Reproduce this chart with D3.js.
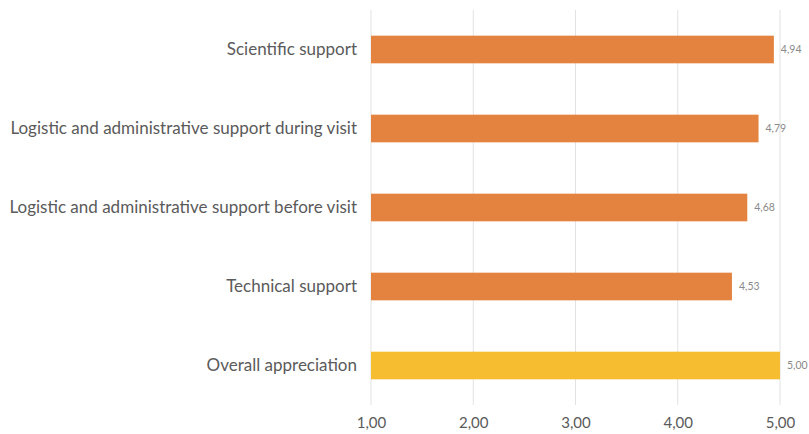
<!DOCTYPE html>
<html>
<head>
<meta charset="utf-8">
<script src="https://cdn.jsdelivr.net/npm/d3@7"></script>
<style>
  body { margin: 0; background: #fff; }
  .cat { font-family: Lato, sans-serif; font-size: 17px; fill: #5a5a5a; }
  .val { font-family: Lato, sans-serif; font-size: 10.5px; fill: #8a8a8a; }
  .tick text { font-family: Lato, sans-serif; font-size: 15px; fill: #5a5a5a; }
</style>
</head>
<body>
<div id="chart"></div>
<script>
var categories = ["Scientific support", "Logistic and administrative support during visit",
    "Logistic and administrative support before visit", "Technical support", "Overall appreciation"];
var scores = [4.94, 4.79, 4.68, 4.53, 5.00];
var barColors = ["#e3833f", "#e3833f", "#e3833f", "#e3833f", "#f7bd30"];
var tickValues = [1, 2, 3, 4, 5];

var svgWidth = 809;
var svgHeight = 434;

var svg = d3.select("#chart")
    .append("svg")
    .attr("width", svgWidth)
    .attr("height", svgHeight);

var x = d3.scaleLinear()
    .domain([1, 5])
    .range([371, 780]);

var y = d3.scaleBand()
    .domain(categories)
    .range([10, 405])
    .paddingInner(0.65)
    .paddingOuter(0.325);

var commaFmt = d => d3.format(".2f")(d).replace(".", ",");

// gridlines
svg.append("g")
    .selectAll("line")
    .data(tickValues)
    .enter()
    .append("line")
        .attr("x1", d => x(d))
        .attr("x2", d => x(d))
        .attr("y1", 10)
        .attr("y2", 405)
        .attr("stroke", "#e2e2e2")
        .attr("stroke-width", 1);

// bottom axis, only the labels
var bottomAxis = d3.axisBottom(x)
    .tickValues(tickValues)
    .tickSize(0)
    .tickPadding(12)
    .tickFormat(commaFmt);

var xAxis = svg.append("g")
    .attr("transform", "translate(0, 405)")
    .call(bottomAxis);
xAxis.select(".domain").remove();

var barGroup = svg.append("g");

barGroup.selectAll("rect")
    .data(categories)
    .enter()
    .append("rect")
        .attr("x", x(1))
        .attr("y", d => y(d))
        .attr("width", (d, i) => x(scores[i]) - x(1))
        .attr("height", y.bandwidth())
        .attr("fill", (d, i) => barColors[i]);

barGroup.selectAll("text.val")
    .data(categories)
    .enter()
    .append("text")
        .attr("class", "val")
        .attr("x", (d, i) => x(scores[i]) + 7)
        .attr("y", d => y(d) + y.bandwidth() / 2)
        .attr("dy", "0.35em")
        .text((d, i) => commaFmt(scores[i]));

svg.append("g")
    .selectAll("text")
    .data(categories)
    .enter()
    .append("text")
        .attr("class", "cat")
        .attr("x", 357)
        .attr("y", d => y(d) + y.bandwidth() / 2)
        .attr("dy", "0.35em")
        .attr("text-anchor", "end")
        .text(d => d);
</script>
</body>
</html>
